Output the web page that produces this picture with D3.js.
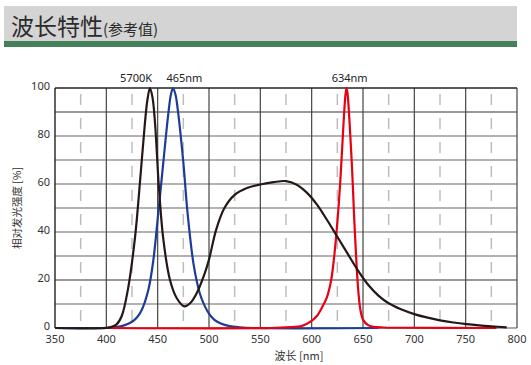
<!DOCTYPE html>
<html>
<head>
<meta charset="utf-8">
<script src="https://cdn.jsdelivr.net/npm/d3@7"></script>
<style>
  body { margin: 0; background: #fff; }
  text { font-family: "Noto Sans CJK SC", "Noto Sans", sans-serif; }
  text.num { font-family: "Noto Sans", "DejaVu Sans", sans-serif; }
</style>
</head>
<body>
<div id="chart"></div>
<script>
// wavelength [nm], relative intensity [%]
var white_5700k = [[350,0],[400,0],[405,0.5],[410,1.5],[415,5],[421,16],[428,38],[433,62],[437.5,85],[440,95],[442.5,100],[445,96],[447.5,85],[451,60],[455.5,37],[462,20],[468.5,12.5],[476,9],[482,10.5],[488,14.5],[496,23],[500,28.5],[507,41],[515,50],[525,55.5],[537,58.3],[550,59.8],[563,60.8],[575,61.2],[585,59.8],[595,56.5],[605,51.5],[615,45],[625,38],[635,31],[645,24],[655,18],[665,13.5],[675,10.3],[687,7.8],[700,5.8],[712,4.4],[725,3.2],[738,2.3],[751,1.6],[763,1.1],[775,0.7],[790,0.3]];
var blue_465 = [[350,0],[400,0.1],[411,0.5],[418,1.2],[425,2.6],[430,4.5],[434.5,7.5],[441,16],[445.7,28],[450.6,48],[455.5,69],[460.3,89],[463,97.5],[465,100],[467.5,97],[470,89.5],[475,69],[479,48.5],[485,26.5],[491,14.5],[496,9],[500,6],[505,3.5],[511,2],[520,0.8],[530,0.3],[543,0],[665,0]];
var red_634 = [[400,0],[560,0],[580,0.4],[590,0.8],[600,3],[605,5],[610,8.5],[615,13],[619,20],[622,30],[625,44],[628,62],[631,85],[633,97.5],[634,100],[635,97.5],[637,85],[639.5,65],[641.5,45],[643.5,28],[645.5,15],[647.5,7.5],[650,3.5],[655,1.2],[660,0.5],[670,0.2],[680,0.1],[780,0]];

var series_colours = ["#1d3c97", "#e60012", "#231815"];
var peak_labels = ["5700K", "465nm", "634nm"];
var peak_label_pos = [429, 476, 637];

var x_ticks = [350, 400, 450, 500, 550, 600, 650, 700, 750, 800];
var y_ticks = [0, 20, 40, 60, 80, 100];

var width = 531, height = 365;

var svg = d3.select("#chart")
  .append("svg")
  .attr("width", width)
  .attr("height", height);

// header band
svg.append("rect")
  .attr("x", 4).attr("y", 6)
  .attr("width", 513).attr("height", 35)
  .attr("fill", "#d4d4d4");
svg.append("rect")
  .attr("x", 4).attr("y", 41)
  .attr("width", 513).attr("height", 6)
  .attr("fill", "#44815a");
var title = svg.append("text")
  .attr("x", 11).attr("y", 35)
  .attr("fill", "#2b2b2b")
  .attr("font-size", "23px");
title.append("tspan").text("波长特性");
title.append("tspan").attr("font-size", "15px").text("(参考值)");

var x = d3.scaleLinear().domain([350, 800]).range([55, 517]);
var y = d3.scaleLinear().domain([0, 100]).range([328, 88]);

// dashed minor verticals
var minor = d3.range(375, 800, 50);
svg.append("g").selectAll("line")
  .data(minor).enter().append("line")
  .attr("x1", function(d) { return x(d); })
  .attr("x2", function(d) { return x(d); })
  .attr("y1", y(100)).attr("y2", y(0))
  .attr("stroke", "#bdbdbd")
  .attr("stroke-width", 1.5)
  .attr("stroke-dasharray", "11,13")
  .attr("stroke-dashoffset", -6);

// horizontal grid
svg.append("g").selectAll("line")
  .data(d3.range(10, 100, 10)).enter().append("line")
  .attr("x1", x(350)).attr("x2", x(800))
  .attr("y1", function(d) { return y(d); })
  .attr("y2", function(d) { return y(d); })
  .attr("stroke", function(d) { return (d == 20 || d == 90) ? "#333" : "#666"; })
  .attr("stroke-width", 1.2);

// major verticals
svg.append("g").selectAll("line")
  .data(x_ticks.slice(1)).enter().append("line")
  .attr("x1", function(d) { return x(d); })
  .attr("x2", function(d) { return x(d); })
  .attr("y1", y(100)).attr("y2", y(0))
  .attr("stroke", "#444")
  .attr("stroke-width", 1.2);

// frame
svg.append("line")
  .attr("x1", x(350)).attr("x2", x(350))
  .attr("y1", y(100)).attr("y2", y(0))
  .attr("stroke", "#222").attr("stroke-width", 1.4);
svg.append("line")
  .attr("x1", x(350)).attr("x2", x(800))
  .attr("y1", y(100)).attr("y2", y(100))
  .attr("stroke", "#222").attr("stroke-width", 1.4);
svg.append("line")
  .attr("x1", x(350)).attr("x2", x(800))
  .attr("y1", y(0)).attr("y2", y(0))
  .attr("stroke", "#555").attr("stroke-width", 1.2);

// curves
var curve = d3.line()
  .x(function(d) { return x(d[0]); })
  .y(function(d) { return y(Math.max(0, d[1])); })
  .curve(d3.curveCatmullRom.alpha(0.5));

[blue_465, red_634, white_5700k].forEach(function(s, i) {
  svg.append("path")
    .attr("d", curve(s))
    .attr("fill", "none")
    .attr("stroke", series_colours[i])
    .attr("stroke-width", 2.2)
    .attr("stroke-linejoin", "round");
});

// peak labels
peak_labels.forEach(function(t, i) {
  svg.append("text")
    .attr("class", "num")
    .attr("x", x(peak_label_pos[i]))
    .attr("y", 82)
    .attr("text-anchor", "middle")
    .attr("font-size", "11px")
    .attr("fill", "#222")
    .text(t);
});

// tick labels
svg.append("g").selectAll("text")
  .data(y_ticks).enter().append("text")
  .attr("class", "num")
  .attr("x", 50)
  .attr("y", function(d) { return y(d) + 2; })
  .attr("text-anchor", "end")
  .attr("font-size", "11px")
  .attr("fill", "#333")
  .text(function(d) { return d; });

svg.append("g").selectAll("text")
  .data(x_ticks).enter().append("text")
  .attr("class", "num")
  .attr("x", function(d) { return x(d); })
  .attr("y", 343)
  .attr("text-anchor", "middle")
  .attr("font-size", "11px")
  .attr("fill", "#333")
  .text(function(d) { return d; });

svg.append("text")
  .attr("x", 299).attr("y", 360)
  .attr("text-anchor", "middle")
  .attr("font-size", "11px")
  .attr("fill", "#333")
  .text("波长 [nm]");

svg.append("text")
  .attr("transform", "translate(21,208) rotate(-90)")
  .attr("text-anchor", "middle")
  .attr("font-size", "10.5px")
  .attr("fill", "#333")
  .text("相对发光强度 [%]");
</script>
</body>
</html>
